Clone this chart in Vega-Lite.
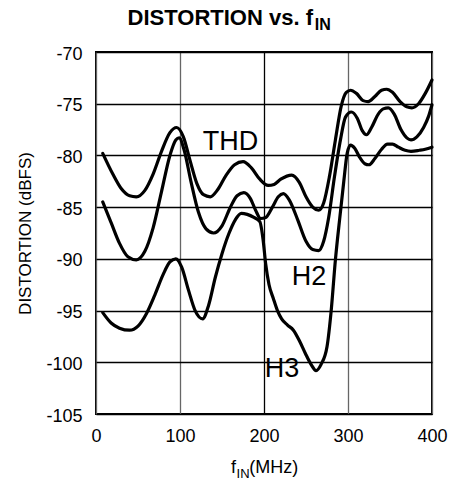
{
  "$schema": "https://vega.github.io/schema/vega-lite/v6.json",
  "width": 336,
  "height": 362,
  "autosize": {"type": "none"},
  "padding": {"left": 96, "top": 52, "right": 18, "bottom": 69},
  "background": "white",
  "config": {
    "view": {"stroke": "black", "strokeWidth": 2},
    "axis": {"labelFont": "Liberation Sans", "labelColor": "black", "titleFont": "Liberation Sans", "titleColor": "black", "labelFlush": false, "ticks": false, "tickSize": 0, "domain": false, "gridOpacity": 1}
  },
  "datasets": {
    "curves": [
      {"series": "THD", "f": 8, "dist": -79.8},
      {"series": "THD", "f": 20, "dist": -81.8},
      {"series": "THD", "f": 30, "dist": -83.2},
      {"series": "THD", "f": 40, "dist": -83.9},
      {"series": "THD", "f": 48, "dist": -84.0},
      {"series": "THD", "f": 58, "dist": -83.4},
      {"series": "THD", "f": 68, "dist": -81.8},
      {"series": "THD", "f": 78, "dist": -79.6},
      {"series": "THD", "f": 88, "dist": -77.8},
      {"series": "THD", "f": 96, "dist": -77.3},
      {"series": "THD", "f": 104, "dist": -78.2},
      {"series": "THD", "f": 112, "dist": -80.5},
      {"series": "THD", "f": 120, "dist": -82.7},
      {"series": "THD", "f": 128, "dist": -83.8},
      {"series": "THD", "f": 136, "dist": -84.0},
      {"series": "THD", "f": 145, "dist": -83.3},
      {"series": "THD", "f": 155, "dist": -81.9},
      {"series": "THD", "f": 165, "dist": -80.9},
      {"series": "THD", "f": 175, "dist": -80.6},
      {"series": "THD", "f": 185, "dist": -81.2},
      {"series": "THD", "f": 195, "dist": -82.3},
      {"series": "THD", "f": 205, "dist": -82.9},
      {"series": "THD", "f": 212, "dist": -82.8},
      {"series": "THD", "f": 220, "dist": -82.3},
      {"series": "THD", "f": 233, "dist": -81.9},
      {"series": "THD", "f": 242, "dist": -82.6},
      {"series": "THD", "f": 250, "dist": -84.0},
      {"series": "THD", "f": 258, "dist": -85.0},
      {"series": "THD", "f": 265, "dist": -85.3},
      {"series": "THD", "f": 271, "dist": -84.6},
      {"series": "THD", "f": 278, "dist": -82.0},
      {"series": "THD", "f": 285, "dist": -78.5},
      {"series": "THD", "f": 292, "dist": -75.2},
      {"series": "THD", "f": 298, "dist": -73.9},
      {"series": "THD", "f": 303, "dist": -73.7},
      {"series": "THD", "f": 310, "dist": -74.0},
      {"series": "THD", "f": 318, "dist": -74.7},
      {"series": "THD", "f": 324, "dist": -74.8},
      {"series": "THD", "f": 332, "dist": -74.3},
      {"series": "THD", "f": 340, "dist": -73.7},
      {"series": "THD", "f": 346, "dist": -73.6},
      {"series": "THD", "f": 353, "dist": -73.9},
      {"series": "THD", "f": 362, "dist": -74.8},
      {"series": "THD", "f": 370, "dist": -75.3},
      {"series": "THD", "f": 376, "dist": -75.4},
      {"series": "THD", "f": 384, "dist": -75.0},
      {"series": "THD", "f": 392, "dist": -74.0},
      {"series": "THD", "f": 400, "dist": -72.7},
      {"series": "H2", "f": 8, "dist": -84.5},
      {"series": "H2", "f": 18, "dist": -86.5},
      {"series": "H2", "f": 28, "dist": -88.5},
      {"series": "H2", "f": 38, "dist": -89.8},
      {"series": "H2", "f": 48, "dist": -90.1},
      {"series": "H2", "f": 58, "dist": -89.3},
      {"series": "H2", "f": 68, "dist": -87.0},
      {"series": "H2", "f": 78, "dist": -83.5},
      {"series": "H2", "f": 88, "dist": -80.0},
      {"series": "H2", "f": 95, "dist": -78.5},
      {"series": "H2", "f": 99, "dist": -78.3},
      {"series": "H2", "f": 105, "dist": -79.5},
      {"series": "H2", "f": 113, "dist": -82.5},
      {"series": "H2", "f": 122, "dist": -85.5},
      {"series": "H2", "f": 131, "dist": -87.1},
      {"series": "H2", "f": 140, "dist": -87.5},
      {"series": "H2", "f": 150, "dist": -86.8},
      {"series": "H2", "f": 160, "dist": -85.0},
      {"series": "H2", "f": 168, "dist": -83.9},
      {"series": "H2", "f": 176, "dist": -83.6},
      {"series": "H2", "f": 184, "dist": -84.2},
      {"series": "H2", "f": 190, "dist": -85.3},
      {"series": "H2", "f": 196, "dist": -86.1},
      {"series": "H2", "f": 202, "dist": -86.0},
      {"series": "H2", "f": 210, "dist": -85.0},
      {"series": "H2", "f": 217, "dist": -84.0},
      {"series": "H2", "f": 223, "dist": -83.7},
      {"series": "H2", "f": 230, "dist": -84.3},
      {"series": "H2", "f": 240, "dist": -86.2},
      {"series": "H2", "f": 250, "dist": -88.3},
      {"series": "H2", "f": 258, "dist": -89.1},
      {"series": "H2", "f": 265, "dist": -89.2},
      {"series": "H2", "f": 271, "dist": -88.3},
      {"series": "H2", "f": 277, "dist": -86.0},
      {"series": "H2", "f": 284, "dist": -82.0},
      {"series": "H2", "f": 291, "dist": -78.5},
      {"series": "H2", "f": 297, "dist": -76.3},
      {"series": "H2", "f": 304, "dist": -75.8},
      {"series": "H2", "f": 311, "dist": -76.4},
      {"series": "H2", "f": 317, "dist": -77.6},
      {"series": "H2", "f": 322, "dist": -78.0},
      {"series": "H2", "f": 328, "dist": -77.3},
      {"series": "H2", "f": 336, "dist": -76.0},
      {"series": "H2", "f": 342, "dist": -75.5},
      {"series": "H2", "f": 348, "dist": -75.4},
      {"series": "H2", "f": 355, "dist": -76.0},
      {"series": "H2", "f": 363, "dist": -77.5},
      {"series": "H2", "f": 370, "dist": -78.3},
      {"series": "H2", "f": 375, "dist": -78.5},
      {"series": "H2", "f": 382, "dist": -78.2},
      {"series": "H2", "f": 390, "dist": -77.3},
      {"series": "H2", "f": 396, "dist": -76.2},
      {"series": "H2", "f": 400, "dist": -75.1},
      {"series": "H3", "f": 8, "dist": -95.2},
      {"series": "H3", "f": 18, "dist": -96.2},
      {"series": "H3", "f": 28, "dist": -96.7},
      {"series": "H3", "f": 40, "dist": -96.9},
      {"series": "H3", "f": 50, "dist": -96.5},
      {"series": "H3", "f": 60, "dist": -95.3},
      {"series": "H3", "f": 70, "dist": -93.5},
      {"series": "H3", "f": 80, "dist": -91.5},
      {"series": "H3", "f": 88, "dist": -90.3},
      {"series": "H3", "f": 95, "dist": -90.0},
      {"series": "H3", "f": 102, "dist": -90.8},
      {"series": "H3", "f": 110, "dist": -93.0},
      {"series": "H3", "f": 118, "dist": -95.0},
      {"series": "H3", "f": 127, "dist": -95.8},
      {"series": "H3", "f": 134, "dist": -94.5},
      {"series": "H3", "f": 142, "dist": -91.8},
      {"series": "H3", "f": 150, "dist": -89.5},
      {"series": "H3", "f": 158, "dist": -87.6},
      {"series": "H3", "f": 166, "dist": -86.2},
      {"series": "H3", "f": 173, "dist": -85.6},
      {"series": "H3", "f": 180, "dist": -85.7},
      {"series": "H3", "f": 188, "dist": -86.0},
      {"series": "H3", "f": 195, "dist": -86.4},
      {"series": "H3", "f": 199, "dist": -88.2},
      {"series": "H3", "f": 202, "dist": -90.5},
      {"series": "H3", "f": 206, "dist": -92.5},
      {"series": "H3", "f": 211, "dist": -93.8},
      {"series": "H3", "f": 216, "dist": -95.0},
      {"series": "H3", "f": 221, "dist": -95.8},
      {"series": "H3", "f": 228, "dist": -96.4},
      {"series": "H3", "f": 235, "dist": -96.9},
      {"series": "H3", "f": 242, "dist": -97.9},
      {"series": "H3", "f": 249, "dist": -99.1},
      {"series": "H3", "f": 256, "dist": -100.2},
      {"series": "H3", "f": 262, "dist": -100.8},
      {"series": "H3", "f": 268, "dist": -100.2},
      {"series": "H3", "f": 275, "dist": -98.5},
      {"series": "H3", "f": 280, "dist": -95.0},
      {"series": "H3", "f": 285, "dist": -90.1},
      {"series": "H3", "f": 290, "dist": -86.2},
      {"series": "H3", "f": 295, "dist": -82.5},
      {"series": "H3", "f": 299, "dist": -79.8},
      {"series": "H3", "f": 303, "dist": -79.0},
      {"series": "H3", "f": 308, "dist": -79.3},
      {"series": "H3", "f": 314, "dist": -80.2},
      {"series": "H3", "f": 320, "dist": -80.8},
      {"series": "H3", "f": 325, "dist": -80.9},
      {"series": "H3", "f": 332, "dist": -80.3},
      {"series": "H3", "f": 340, "dist": -79.4},
      {"series": "H3", "f": 347, "dist": -78.9},
      {"series": "H3", "f": 353, "dist": -78.9},
      {"series": "H3", "f": 360, "dist": -79.2},
      {"series": "H3", "f": 368, "dist": -79.5},
      {"series": "H3", "f": 375, "dist": -79.6},
      {"series": "H3", "f": 385, "dist": -79.5},
      {"series": "H3", "f": 392, "dist": -79.4},
      {"series": "H3", "f": 400, "dist": -79.2}
    ]
  },
  "layer": [
    {
      "data": {"name": "curves"},
      "mark": {"type": "line", "interpolate": "monotone", "strokeWidth": 3.2, "color": "black", "strokeCap": "round", "strokeJoin": "round"},
      "encoding": {
        "x": {
          "field": "f", "type": "quantitative",
          "scale": {"domain": [0, 400], "nice": false, "zero": false},
          "axis": {
            "values": [0, 100, 200, 300, 400], "title": null,
            "labelFontSize": 18, "labelPadding": 13,
            "grid": true, "gridWidth": 1.3,
            "gridColor": {"condition": {"test": "datum.value === 200", "value": "black"}, "value": "#666666"}
          }
        },
        "y": {
          "field": "dist", "type": "quantitative",
          "scale": {"domain": [-105, -70], "nice": false, "zero": false},
          "axis": {
            "values": [-105, -100, -95, -90, -85, -80, -75, -70],
            "labelExpr": "toString(datum.value)",
            "title": "DISTORTION (dBFS)", "titleFontSize": 17, "titleFontWeight": "normal", "titlePadding": 11,
            "labelFontSize": 18, "labelPadding": 14, "labelOffset": 2,
            "grid": true, "gridWidth": 1.3, "gridColor": "black"
          }
        },
        "detail": {"field": "series", "type": "nominal"}
      }
    },
    {
      "data": {"values": [{}]},
      "mark": {"type": "text", "text": "THD", "font": "Liberation Sans", "fontSize": 27, "align": "left", "baseline": "alphabetic", "color": "black"},
      "encoding": {"x": {"datum": 127}, "y": {"datum": -79.5}}
    },
    {
      "data": {"values": [{}]},
      "mark": {"type": "text", "text": "H2", "font": "Liberation Sans", "fontSize": 27, "align": "left", "baseline": "alphabetic", "color": "black"},
      "encoding": {"x": {"datum": 233}, "y": {"datum": -92.5}}
    },
    {
      "data": {"values": [{}]},
      "mark": {"type": "text", "text": "H3", "font": "Liberation Sans", "fontSize": 27, "align": "left", "baseline": "alphabetic", "color": "black"},
      "encoding": {"x": {"datum": 201}, "y": {"datum": -101.4}}
    },
    {
      "data": {"values": [{}]},
      "mark": {"type": "text", "text": "DISTORTION vs. f", "font": "Liberation Sans", "fontWeight": "bold", "fontSize": 22, "align": "right", "baseline": "alphabetic", "color": "black"},
      "encoding": {"x": {"datum": 258.3}, "y": {"datum": -67.39}}
    },
    {
      "data": {"values": [{}]},
      "mark": {"type": "text", "text": "IN", "font": "Liberation Sans", "fontWeight": "bold", "fontSize": 16, "align": "left", "baseline": "alphabetic", "color": "black"},
      "encoding": {"x": {"datum": 260.5}, "y": {"datum": -67.87}}
    },
    {
      "data": {"values": [{}]},
      "mark": {"type": "text", "text": "f", "font": "Liberation Sans", "fontSize": 18, "align": "right", "baseline": "alphabetic", "color": "black"},
      "encoding": {"x": {"datum": 166.7}, "y": {"datum": -110.72}}
    },
    {
      "data": {"values": [{}]},
      "mark": {"type": "text", "text": "IN", "font": "Liberation Sans", "fontSize": 13, "align": "left", "baseline": "alphabetic", "color": "black"},
      "encoding": {"x": {"datum": 167.3}, "y": {"datum": -111.2}}
    },
    {
      "data": {"values": [{}]},
      "mark": {"type": "text", "text": "(MHz)", "font": "Liberation Sans", "fontSize": 18, "align": "left", "baseline": "alphabetic", "color": "black"},
      "encoding": {"x": {"datum": 182.5}, "y": {"datum": -110.72}}
    }
  ]
}
